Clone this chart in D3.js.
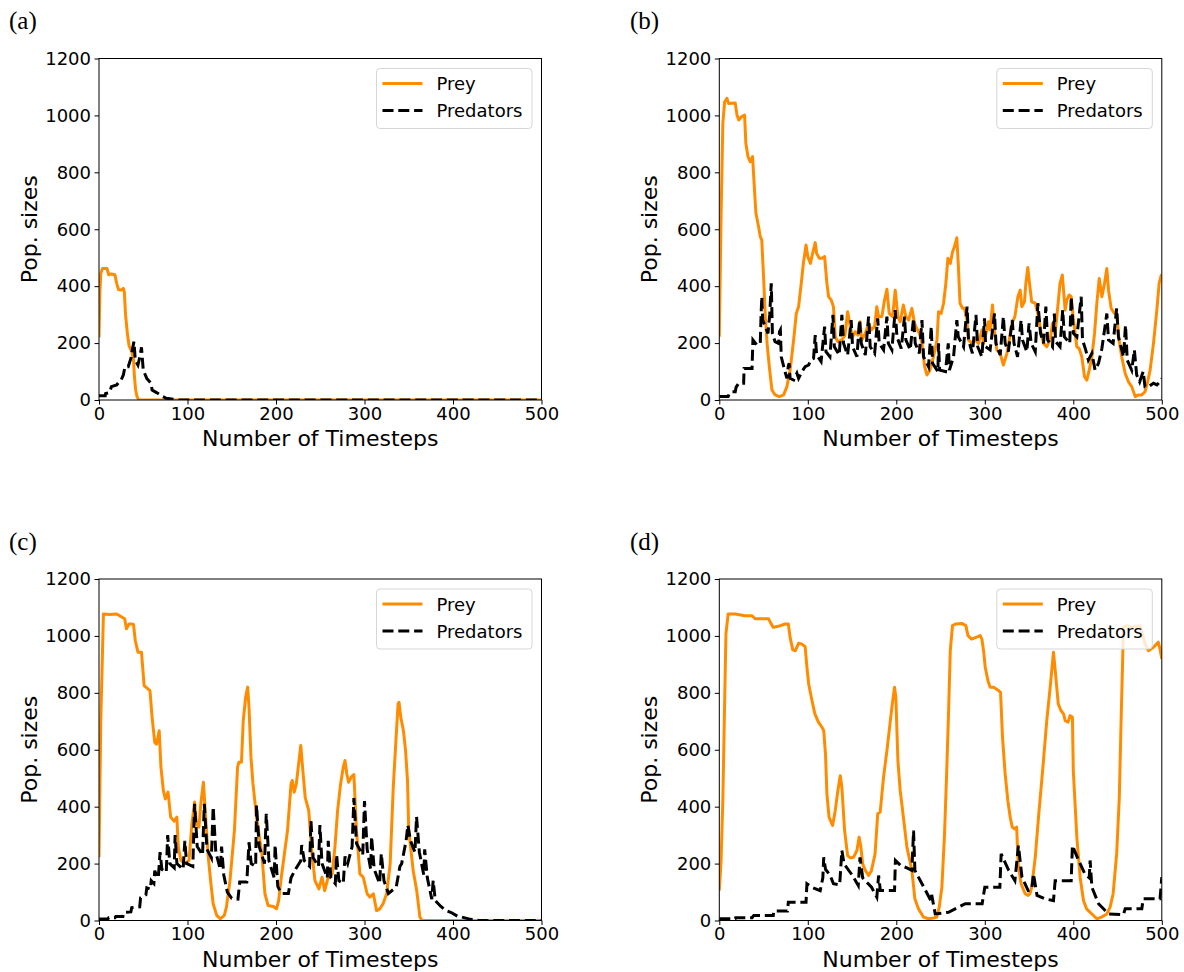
<!DOCTYPE html>
<html>
<head>
<meta charset="utf-8">
<script src="https://cdn.jsdelivr.net/npm/d3@7/dist/d3.min.js"></script>
<style>
    html, body { margin: 0; padding: 0; background: #fff; }
    svg { display: block; }
    text { font-family: 'DejaVu Sans', sans-serif; fill: #000; }
</style>
</head>
<body>
<svg id="chart"></svg>
<script>
// --- data ---
const xTicks = [0, 100, 200, 300, 400, 500];
const yTicks = [0, 200, 400, 600, 800, 1000, 1200];
const panelLabels = ['(a)', '(b)', '(c)', '(d)'];
const seriesNames = ['Prey', 'Predators'];
const xTitle = 'Number of Timesteps';
const yTitle = 'Pop. sizes';

// [timestep, population]
const preyA = [[0,220],[1,380],[2,445],[4,462],[9,462],[11,440],[14,443],[18,440],[20,410],[22,388],[25,386],[27.5,392],[28.6,380],[30,300],[32,235],[34,190],[37,170],[39,140],[40,85],[41.4,35],[43,12],[45,0],[500,0]];
const predA = [[0,15],[7,15],[7.5,23],[12,26],[14,47],[20,53],[22,61],[25,70],[27.5,88],[29.4,117],[33,117],[36,146],[37.6,176],[39.5,205],[41,140],[44,123],[46,150],[48,185],[50,105],[54,76],[58.7,59],[60,35],[65,26],[71,14],[76,6],[86,2],[90,0],[500,0]];

const preyB = [[0,222],[2,644],[4,972],[6,1048],[8.7,1060],[10.5,1042],[18,1044],[20,1001],[22,984],[25,995],[28.6,1001],[30,902],[32.4,855],[35,837],[37.6,855],[40,726],[41.4,656],[44.4,609],[46.3,574],[48,562],[50,433],[52,293],[54,199],[56.5,117],[59.5,35],[63,18],[67.8,12],[72.7,18],[76.4,47],[80,105],[84,211],[87,304],[89.6,328],[92.6,410],[95,480],[98,545],[100,504],[103,480],[105,509],[108.4,553],[110,515],[113,498],[116,498],[119,504],[121.6,410],[123.5,363],[126.5,351],[129,328],[131,222],[134,205],[138.5,211],[142,228],[145,310],[148,258],[150.6,222],[153.6,240],[156.6,228],[159,275],[161,211],[165,234],[168.7,269],[171.7,246],[175.5,258],[178,328],[180,293],[183.7,293],[186.7,351],[189.4,389],[192,304],[195.8,293],[198.8,386],[201.8,293],[204.4,275],[208,334],[210.8,293],[214,281],[217.6,322],[220.6,269],[223,252],[226,234],[229,199],[232,117],[234.6,88],[238,105],[242,152],[246,211],[247.7,310],[250.7,304],[253.4,340],[256,410],[258.3,498],[261,480],[263.6,521],[265.8,539],[268.4,570],[270,480],[272,340],[274.9,322],[277,322],[279.8,281],[281.6,211],[285.4,199],[289,211],[293,199],[296.7,246],[298.6,199],[300.5,222],[304.2,275],[306,246],[308.7,334],[311,240],[313.6,176],[317.4,164],[321,123],[325,164],[327.6,211],[330.6,269],[334,293],[337.4,363],[340,386],[341.8,328],[344.8,345],[346.4,410],[348.6,466],[350.5,410],[353,345],[357,340],[360.7,293],[363.7,234],[366.4,199],[370,187],[373.8,211],[376.5,269],[379.5,234],[382.5,328],[385,410],[387.6,439],[390.8,316],[392.7,351],[395.3,369],[397.6,363],[400.2,281],[404,187],[406.6,181],[409.6,152],[412.7,82],[415.3,70],[418,105],[421,152],[424,234],[426.6,340],[429.3,427],[432.3,363],[435.3,410],[437.9,462],[439.8,386],[442.8,322],[446.6,304],[449,304],[451.7,211],[454.7,152],[458.6,94],[462.3,64],[466,47],[469.9,12],[473.6,18],[477.4,18],[481,29],[484,64],[486.8,105],[490.6,199],[494.4,316],[497,410],[499.4,439],[500,440]];
const predB = [[0,12],[10,12],[11,20],[14,29],[18,29],[19,45],[22,59],[27.5,59],[28,111],[37,111],[38,211],[42.5,193],[46.3,199],[47,280],[48,363],[49,281],[52,258],[55,234],[57,300],[58.7,410],[60,234],[63,205],[67,199],[68,240],[69,246],[70,152],[73.8,105],[76.4,76],[78,120],[79,129],[80,76],[84,70],[87.7,94],[89.6,76],[93.4,100],[97,117],[101,123],[103,140],[106.5,146],[108.4,228],[110,158],[115,135],[119,258],[120.5,170],[125,152],[128.4,299],[130,187],[135.5,158],[138.5,299],[140.4,199],[145,158],[149,281],[150.6,187],[155.5,152],[158.5,281],[160.4,199],[165,158],[168.7,293],[170.5,187],[175.5,164],[179,287],[180.7,199],[185.6,176],[189.4,293],[191,199],[195,176],[198.8,316],[200.7,222],[205.6,181],[209.3,293],[210.8,211],[215.7,176],[219.5,287],[221.4,199],[226,164],[229,281],[230.8,152],[236.4,117],[239.5,258],[241,129],[247,100],[247.7,199],[249,105],[255.6,100],[258.7,199],[260,105],[264.7,152],[268.4,281],[270,222],[276,187],[280,328],[281.6,211],[286,164],[290,299],[292,187],[296.7,152],[299.7,287],[301,187],[306,176],[311,304],[312.6,199],[317.4,158],[321,293],[323,199],[326.6,170],[331,281],[333,199],[337,152],[341,281],[342.6,211],[347.5,170],[350,269],[352.4,199],[357,170],[360,340],[363,234],[366.4,199],[369,328],[371,211],[376.5,187],[378.6,304],[380,205],[385,187],[388,316],[390,222],[396,199],[397.6,363],[400.2,234],[404,222],[408.9,363],[410.4,211],[414,176],[417,140],[421,164],[424.6,105],[428.5,129],[432.3,181],[437.9,304],[439.8,211],[445,199],[449,322],[451,222],[456.7,152],[459,263],[461,140],[466,105],[469,176],[471.6,88],[475,64],[479,100],[481,47],[485,47],[490.6,59],[494.4,53],[498,64],[500,76]];

const preyC = [[0,222],[2,700],[5,1077],[12,1075],[20,1077],[29,1060],[31,1025],[34,1042],[37,1042],[39,1040],[41,984],[44,943],[48,943],[51,825],[57.6,808],[60,714],[63,626],[65,620],[68,667],[70,539],[72.7,457],[75,427],[78,451],[81,363],[85,349],[88,363],[89.6,258],[92.6,211],[97,199],[101.7,211],[105,340],[108,416],[110,340],[113,328],[115,410],[118,486],[120,386],[123.5,222],[126.5,129],[129,59],[133,18],[137,6],[141.6,18],[144,47],[148,140],[153,316],[156.6,539],[158,556],[161,556],[163,702],[165.7,785],[168,820],[169.5,749],[171.7,574],[174,480],[178,363],[184,234],[187.5,94],[191,53],[197,49],[200.6,41],[203,70],[206,152],[209,222],[213,316],[217,480],[218.4,492],[220.6,451],[223,480],[226,562],[228,615],[230,539],[233,433],[237,386],[240,258],[244,140],[248.5,111],[252,152],[255,105],[259,152],[263.5,164],[266.6,258],[269.6,386],[273,480],[276,539],[278,562],[280,515],[282,486],[285,504],[288,513],[291,316],[294.8,164],[298.6,152],[303,94],[306,82],[310,94],[313.6,35],[317.4,41],[321,59],[325,94],[329,199],[332.5,468],[335.5,632],[338,761],[339,767],[341,714],[344,667],[346.4,597],[348.6,492],[350,316],[355,176],[359,105],[362.6,12],[365,0],[500,0]];
const predC = [[0,5],[10,5],[11,10],[18,10],[19,14],[27,14],[28,28],[36,30],[37,45],[46,48],[47,80],[53,90],[54,115],[58,110],[59,140],[62,130],[63,175],[66,150],[67,150],[69,240],[71,180],[76,170],[77.6,300],[80,200],[85,185],[86,300],[88,200],[95,180],[97,280],[99,200],[106,190],[108,410],[111,260],[117,230],[119,410],[122,250],[127,220],[129,400],[132,240],[137,180],[138.5,260],[141,160],[145,100],[150,78],[157,75],[159,135],[167,135],[169.5,275],[172,200],[177,190],[178,405],[181,260],[187,200],[189,375],[192,210],[198,150],[199,265],[202,120],[206,95],[214,95],[217,150],[222,180],[228,210],[229,265],[232,210],[238,190],[239.5,350],[242,220],[248,190],[249.6,335],[252,200],[258,150],[259,280],[262,150],[267,130],[268.5,230],[271,140],[276,130],[278,225],[281,200],[286,260],[288,430],[291,270],[298,230],[300,420],[303,250],[307,180],[308,295],[311,180],[317,130],[319,235],[322,140],[327,95],[333,110],[336,120],[340,190],[342,200],[347,280],[349,335],[352,280],[357,240],[358.8,365],[362,240],[367,160],[368,250],[371,150],[376,75],[377.6,140],[380,70],[386,50],[392,35],[398,28],[405,15],[410,12],[420,4],[430,0],[500,0]];

const preyD = [[0,105],[2,211],[4,422],[6,761],[7.5,1007],[10,1077],[18,1077],[29,1071],[37,1071],[40.7,1060],[48,1060],[55.7,1060],[58.7,1042],[61,1030],[69,1036],[74.5,1042],[78,1042],[80,995],[83,951],[86,948],[89.6,974],[93,972],[97,962],[99,890],[101,831],[104.7,773],[108,726],[112,697],[116,679],[118,667],[120,585],[121.6,445],[124,363],[128,334],[131,386],[134,457],[136.7,509],[138.5,468],[141.6,316],[145,228],[148,220],[151.7,222],[155.5,246],[158,293],[160,258],[162,199],[165,176],[168.7,158],[172,176],[176,234],[179,375],[181.8,381],[185.6,504],[189.4,597],[192,667],[195,749],[198,820],[199.5,785],[201.8,562],[204.4,457],[208,363],[212,258],[217.6,176],[221,76],[225,41],[230.8,12],[236.4,6],[242,9],[245.8,12],[248.5,47],[251.5,117],[254.5,304],[257,527],[259,726],[261,948],[263.5,1036],[267,1042],[274,1044],[278.6,1036],[281,1001],[285,989],[290,995],[294.8,1001],[296.7,989],[298.6,948],[300.5,890],[303.5,843],[306,820],[310,820],[312.5,814],[315.6,808],[317.8,802],[320,644],[323,515],[326,422],[328.7,363],[331,328],[334,322],[336,328],[337.7,199],[341,129],[345.6,94],[349,88],[351,94],[353,117],[357,222],[360.7,363],[366,550],[370,702],[373.9,820],[377.6,943],[379.6,878],[383,761],[386,738],[389,726],[390.8,702],[394,697],[396.5,720],[399,714],[400,527],[404,293],[407.7,152],[411.5,70],[415,41],[421,23],[426.6,6],[432,12],[437.9,23],[441.6,47],[445,94],[449,234],[452,433],[454,702],[456.7,1030],[460.5,1036],[466,1030],[475.5,1036],[481,972],[485,948],[490.6,960],[496,978],[498,954],[500,919]];
const predD = [[0,6],[18,6],[18.5,10],[37,10],[39,18],[61,18],[61.5,33],[77,33],[78,64],[98,64],[99,129],[106,115],[114,105],[117,150],[118,222],[120,180],[125,160],[129,129],[136,125],[138.5,246],[141,199],[150,160],[157,123],[159,222],[162,150],[172,117],[178,82],[180,158],[182,105],[198,105],[199,211],[205,193],[212,185],[217.6,176],[219.5,316],[221,176],[229,129],[236,88],[239,70],[240,90],[244,23],[259,29],[278,59],[297,59],[300,117],[317,117],[318.5,234],[327,176],[334,140],[338,263],[342,152],[349,105],[353,110],[355,164],[359,88],[368,76],[377.6,70],[379.5,140],[397.6,140],[399,263],[406,211],[413,164],[418,150],[419,211],[421,117],[428.5,59],[436,35],[440,23],[456.7,21],[458.6,41],[477.4,41],[479,76],[498,76],[500,152]];

// --- layout ---
const WIDTH = 1184, HEIGHT = 972;
const PLOT_W = 442.5, PLOT_H = 341.5;
const ORIGINS = [[99, 58.5], [719.3, 58.5], [99, 579], [719.3, 579]];
const LABEL_POS = [[9, 29], [630, 29], [9, 549.5], [630, 549.5]];
const PREY_COLOR = '#ff8c00';
const PRED_COLOR = '#000';
const LINE_W = 3;
const DASH = '11,4.8';

const panels = [
    { label: panelLabels[0], prey: preyA, pred: predA },
    { label: panelLabels[1], prey: preyB, pred: predB },
    { label: panelLabels[2], prey: preyC, pred: predC },
    { label: panelLabels[3], prey: preyD, pred: predD }
];

const svg = d3.select('#chart')
    .attr('width', WIDTH)
    .attr('height', HEIGHT);
const defs = svg.append('defs');

const x = d3.scaleLinear().domain([0, 500]).range([0, PLOT_W]);
const y = d3.scaleLinear().domain([0, 1200]).range([PLOT_H, 0]);

const line = d3.line()
    .x(d => x(d[0]))
    .y(d => y(d[1]));

panels.forEach((panel, i) => {
    const [left, top] = ORIGINS[i];

    // panel letter
    svg.append('text')
        .attr('x', LABEL_POS[i][0])
        .attr('y', LABEL_POS[i][1])
        .style('font-family', "'Liberation Serif', 'DejaVu Serif', serif")
        .style('font-size', '25px')
        .text(panel.label);

    const g = svg.append('g').attr('transform', `translate(${left},${top})`);

    defs.append('clipPath')
        .attr('id', `clip${i}`)
        .append('rect')
        .attr('width', PLOT_W).attr('height', PLOT_H);

    // axes
    const xAxis = g.append('g')
        .attr('transform', `translate(0,${PLOT_H})`)
        .call(d3.axisBottom(x).tickValues(xTicks).tickFormat(d3.format('d'))
            .tickSize(4.5).tickPadding(2.7));
    const yAxis = g.append('g')
        .call(d3.axisLeft(y).tickValues(yTicks).tickFormat(d3.format('d'))
            .tickSize(4.5).tickPadding(3.5));
    [xAxis, yAxis].forEach(ax => {
        ax.attr('font-family', null).attr('font-size', null);
        ax.select('.domain').remove();
        ax.selectAll('.tick line').attr('stroke', '#000').attr('stroke-width', 1);
        ax.selectAll('.tick text').style('font-size', '18px').attr('fill', '#000');
    });

    // axis titles
    g.append('text')
        .attr('x', PLOT_W / 2)
        .attr('y', PLOT_H + 46)
        .attr('text-anchor', 'middle')
        .style('font-size', '22px')
        .text(xTitle);
    g.append('text')
        .attr('transform', `translate(-62,${PLOT_H / 2}) rotate(-90)`)
        .attr('text-anchor', 'middle')
        .style('font-size', '22px')
        .text(yTitle);

    // series
    const plot = g.append('g').attr('clip-path', `url(#clip${i})`);
    plot.append('path')
        .attr('d', line(panel.prey))
        .attr('fill', 'none')
        .attr('stroke', PREY_COLOR)
        .attr('stroke-width', LINE_W)
        .attr('stroke-linejoin', 'round');
    plot.append('path')
        .attr('d', line(panel.pred))
        .attr('fill', 'none')
        .attr('stroke', PRED_COLOR)
        .attr('stroke-width', LINE_W)
        .attr('stroke-dasharray', DASH);

    // frame
    g.append('rect')
        .attr('width', PLOT_W).attr('height', PLOT_H)
        .attr('fill', 'none')
        .attr('stroke', '#000')
        .attr('stroke-width', 1);

    // legend
    const lg = g.append('g').attr('transform', 'translate(277.5,10)');
    lg.append('rect')
        .attr('width', 155.5).attr('height', 60)
        .attr('rx', 3.5)
        .attr('fill', '#fff').attr('fill-opacity', 0.8)
        .attr('stroke', '#d6d6d6').attr('stroke-width', 1);
    seriesNames.forEach((name, k) => {
        const cy = 15 + k * 27;
        lg.append('line')
            .attr('x1', 6).attr('x2', 46)
            .attr('y1', cy).attr('y2', cy)
            .attr('stroke', k === 0 ? PREY_COLOR : PRED_COLOR)
            .attr('stroke-width', LINE_W)
            .attr('stroke-dasharray', k === 0 ? null : DASH);
        lg.append('text')
            .attr('x', 60)
            .attr('y', cy + 6.5)
            .style('font-size', '18px')
            .text(name);
    });
});
</script>
</body>
</html>
